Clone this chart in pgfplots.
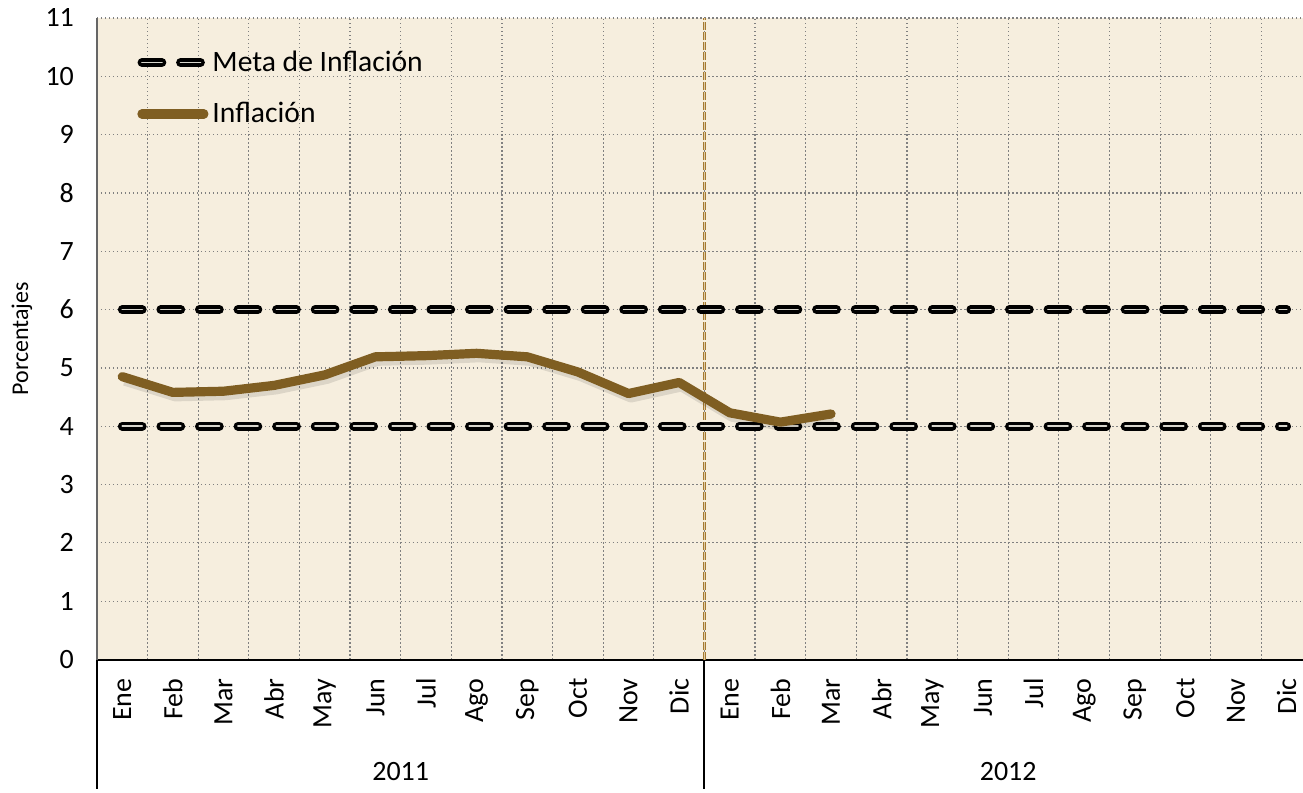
\documentclass[border=0pt]{standalone}
\usepackage{fontspec}
\setmainfont{Carlito}
\usepackage{pgfplots}
\pgfplotsset{compat=1.18}
\definecolor{bgcream}{RGB}{246,238,222}
\definecolor{inflbrown}{RGB}{127,94,34}
\definecolor{sepgold}{RGB}{165,122,48}
\definecolor{metainner}{RGB}{215,213,204}

\begin{document}
\begin{tikzpicture}
\begin{axis}[
  scale only axis, width=608pt, height=321pt,
  xmin=-0.5, xmax=23.5, ymin=0, ymax=11,
  clip=false,
  axis lines*=left,
  x axis line style={black, line width=1pt},
  y axis line style={black!60, line width=1pt},
  axis background/.style={fill=bgcream},
  ytick={0,...,11},
  xtick={0,...,23},
  xticklabels={Ene,Feb,Mar,Abr,May,Jun,Jul,Ago,Sep,Oct,Nov,Dic,
               Ene,Feb,Mar,Abr,May,Jun,Jul,Ago,Sep,Oct,Nov,Dic},
  minor xtick={-0.5,0.5,...,23.5},
  major tick length=0pt, minor tick length=0pt,
  xminorgrids=true, ymajorgrids=true,
  grid style={gray, line width=0.6pt, dash pattern=on 0.7pt off 1.3pt},
  /pgf/number format/assume math mode=true,
  tick label style={font=\fontsize{14}{16}\selectfont},
  yticklabel style={xshift=-8pt},
  xticklabel style={yshift=-6pt, rotate=90, anchor=east},
  legend style={draw=none, fill=none, at={(rel axis cs:0.028,0.962)}, anchor=north west,
    font=\fontsize{14.8}{17}\selectfont, row sep=10pt},
  legend cell align=left,
  legend image code/.code={\draw[#1] (0pt,0pt) -- (31pt,0pt);},
  metastyle/.style={draw=black, line width=1.75pt, double=metainner, double distance=0.9pt,
    line cap=round, dash pattern=on 10pt off 9.3pt},
]
% separador de anios dentro del grafico
\addplot[forget plot, draw=sepgold, line width=0.55pt, double=bgcream!70!sepgold, double distance=0.5pt,
  dash pattern=on 4pt off 1pt] coordinates {(11.5,0) (11.5,11)};
% meta de inflacion
\addplot[metastyle] coordinates {(0,4) (23,4)};
\addlegendentry{Meta de Inflación}
\addplot[metastyle, forget plot] coordinates {(0,6) (23,6)};
% sombra
\addplot[forget plot, black, opacity=0.1, line width=5pt, line join=round,
  transform canvas={xshift=1.2pt, yshift=-2pt}] coordinates {
  (0,4.85) (1,4.58) (2,4.60) (3,4.70) (4,4.88) (5,5.19) (6,5.21) (7,5.25)
  (8,5.19) (9,4.93) (10,4.56) (11,4.75) (12,4.23) (13,4.07) (14,4.21)};
% inflacion
\addplot[inflbrown, line width=4.6pt, line join=round, line cap=round] coordinates {
  (0,4.85) (1,4.58) (2,4.60) (3,4.70) (4,4.88) (5,5.19) (6,5.21) (7,5.25)
  (8,5.19) (9,4.93) (10,4.56) (11,4.75) (12,4.23) (13,4.07) (14,4.21)};
\addlegendentry{Inflación}
% etiquetas de anio y separadores
\draw[black, line width=1pt] (axis cs:-0.5,0) -- ([yshift=-65pt]axis cs:-0.5,0);
\draw[black, line width=1pt] (axis cs:11.5,0) -- ([yshift=-65pt]axis cs:11.5,0);
\node[font=\fontsize{14}{16}\selectfont] at ([yshift=-56pt]axis cs:5.5,0) {2011};
\node[font=\fontsize{14}{16}\selectfont] at ([yshift=-56pt]axis cs:17.5,0) {2012};
\node[rotate=90, font=\fontsize{12}{14}\selectfont] at ([xshift=-37.5pt]rel axis cs:0,0.5) {Porcentajes};
\coordinate (bl) at ([xshift=-48.5pt, yshift=-66.5pt]rel axis cs:0,0);
\coordinate (tr) at ([xshift=-4.5pt, yshift=9pt]rel axis cs:1,1);
\end{axis}
\pgfresetboundingbox
\path[use as bounding box] (bl) rectangle (tr);
\end{tikzpicture}
\end{document}
